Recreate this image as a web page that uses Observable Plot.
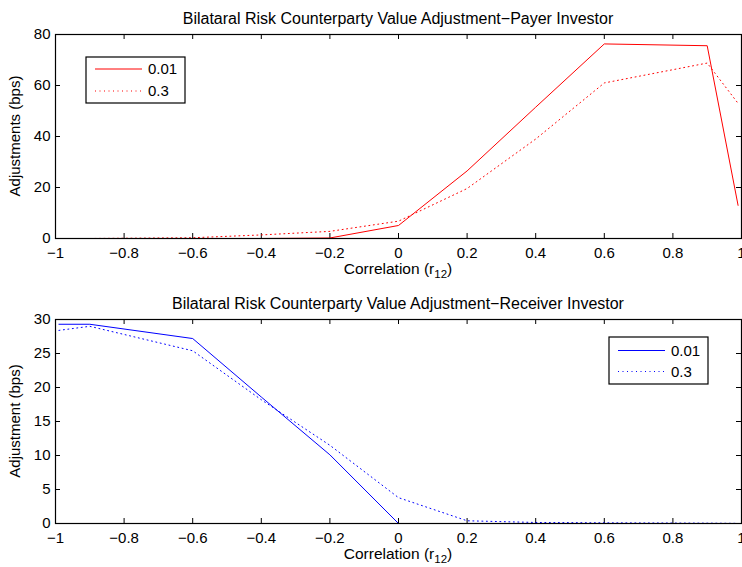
<!DOCTYPE html>
<html>
<head>
<meta charset="utf-8">
<script src="https://cdn.jsdelivr.net/npm/d3@7"></script>
<script src="https://cdn.jsdelivr.net/npm/@observablehq/plot@0.6"></script>
<style>
  html, body { margin: 0; padding: 0; background: #fff; overflow: hidden; }
  #wrap { width: 742px; }
  svg { display: block; }
</style>
</head>
<body>
<div id="wrap"></div>
<script>
// ---- data ----
const corr = [-0.99, -0.9, -0.6, -0.4, -0.2, 0, 0.2, 0.4, 0.6, 0.9, 0.99];
const payer001 = [0, 0, 0, 0, 0.2, 5.1, 26.5, 51.5, 76.3, 75.6, 13];
const payer03  = [0, 0, 0.3, 1.4, 2.8, 6.8, 19.6, 39, 61, 68.8, 53];
const recv001  = [29.3, 29.3, 27.2, 18.6, 10.1, 0, 0, 0, 0, 0, 0];
const recv03   = [28.4, 29.0, 25.4, 18.2, 11.5, 3.8, 0.4, 0.15, 0.1, 0.05, 0.02];
const seriesNames = ["0.01", "0.3"];
const xTicks = [-1, -0.8, -0.6, -0.4, -0.2, 0, 0.2, 0.4, 0.6, 0.8, 1];
const yTicksTop = [0, 20, 40, 60, 80];
const yTicksBottom = [0, 5, 10, 15, 20, 25, 30];
const titles = ["Bilataral Risk Counterparty Value Adjustment\u2212Payer Investor",
                "Bilataral Risk Counterparty Value Adjustment\u2212Receiver Investor"];
const yLabels = ["Adjustments (bps)", "Adjustment (bps)"];

const font = "'Liberation Sans', Arial, Helvetica, sans-serif";
const fmt = d => d3.format("")(d);

function panel({rowsA, rowsB, color, yDomain, yTicks, title, yLabel, height, mt, mb, legendPos}) {
  const rowsSolid = corr.map((x, i) => ({x, y: rowsA[i]}));
  const rowsDot = corr.map((x, i) => ({x, y: rowsB[i]}));
  const ml = 55, mr = 1;
  const innerW = 742 - ml - mr, innerH = height - mt - mb, tk = 5;
  const svg = Plot.plot({
    width: 742, height,
    marginLeft: ml, marginRight: mr, marginTop: mt, marginBottom: mb,
    style: {fontFamily: font, fontSize: "15px", background: "white", color: "black", overflow: "visible"},
    x: {domain: [-1, 1]},
    y: {domain: yDomain},
    marks: [
      // inward ticks (MATLAB style) on all four sides
      Plot.tickX(xTicks, {x: d => d, stroke: "black", strokeWidth: 1, insetTop: innerH - tk}),
      Plot.tickX(xTicks, {x: d => d, stroke: "black", strokeWidth: 1, insetBottom: innerH - tk}),
      Plot.tickY(yTicks, {y: d => d, stroke: "black", strokeWidth: 1, insetRight: innerW - tk}),
      Plot.tickY(yTicks, {y: d => d, stroke: "black", strokeWidth: 1, insetLeft: innerW - tk}),
      Plot.line(rowsDot, {x: "x", y: "y", stroke: color, strokeWidth: 1, strokeDasharray: "1,3.5"}),
      Plot.line(rowsSolid, {x: "x", y: "y", stroke: color, strokeWidth: 1}),
      Plot.axisX({ticks: xTicks, tickFormat: fmt, tickSize: 0, tickPadding: 9, label: null, fontSize: 15}),
      Plot.axisY({ticks: yTicks, tickFormat: fmt, tickSize: 0, tickPadding: 5, label: null, fontSize: 15}),
      Plot.frame({stroke: "black", strokeWidth: 1.2})
    ]
  });
  const s = d3.select(svg);
  const cx = ml + innerW / 2;
  // title
  s.append("text").attr("x", cx).attr("y", mt - 10).attr("text-anchor", "middle")
    .attr("font-size", 16).attr("font-family", font).attr("fill", "black").text(title);
  // x label with subscript
  const xl = s.append("text").attr("x", cx).attr("y", height - mb + 36).attr("text-anchor", "middle")
    .attr("font-size", 15.5).attr("font-family", font).attr("fill", "black");
  xl.append("tspan").text("Correlation (r");
  xl.append("tspan").attr("dy", 4).attr("font-size", 11.5).text("12");
  xl.append("tspan").attr("dy", -4).text(")");
  // y label
  const cy = mt + innerH / 2;
  s.append("text").attr("transform", `translate(20,${cy}) rotate(-90)`).attr("text-anchor", "middle")
    .attr("font-size", 15).attr("font-family", font).attr("fill", "black").text(yLabel);
  // legend
  const [lx, ly, lw, lh, r0, gap] = legendPos;
  const g = s.append("g");
  g.append("rect").attr("x", lx).attr("y", ly).attr("width", lw).attr("height", lh)
    .attr("fill", "white").attr("stroke", "black").attr("stroke-width", 1.2);
  seriesNames.forEach((name, i) => {
    const yy = ly + r0 + i * gap;
    g.append("line").attr("x1", lx + 9).attr("x2", lx + 56).attr("y1", yy).attr("y2", yy)
      .attr("stroke", color).attr("stroke-width", 1)
      .attr("stroke-dasharray", i === 0 ? null : "1,3.5");
    g.append("text").attr("x", lx + 62).attr("y", yy).attr("text-anchor", "start")
      .attr("dy", "0.36em").attr("font-size", 15).attr("font-family", font).attr("fill", "black").text(name);
  });
  return svg;
}

const wrap = document.getElementById("wrap");
wrap.appendChild(panel({
  rowsA: payer001, rowsB: payer03, color: "#ff0000", yDomain: [0, 80], yTicks: yTicksTop,
  title: titles[0], yLabel: yLabels[0], height: 283, mt: 34, mb: 45,
  legendPos: [86, 57, 99, 46, 12, 22]
}));
wrap.appendChild(panel({
  rowsA: recv001, rowsB: recv03, color: "#0000ff", yDomain: [0, 30], yTicks: yTicksBottom,
  title: titles[1], yLabel: yLabels[1], height: 284, mt: 36, mb: 44,
  legendPos: [609, 54, 99, 47, 13.5, 21]
}));
</script>
</body>
</html>
